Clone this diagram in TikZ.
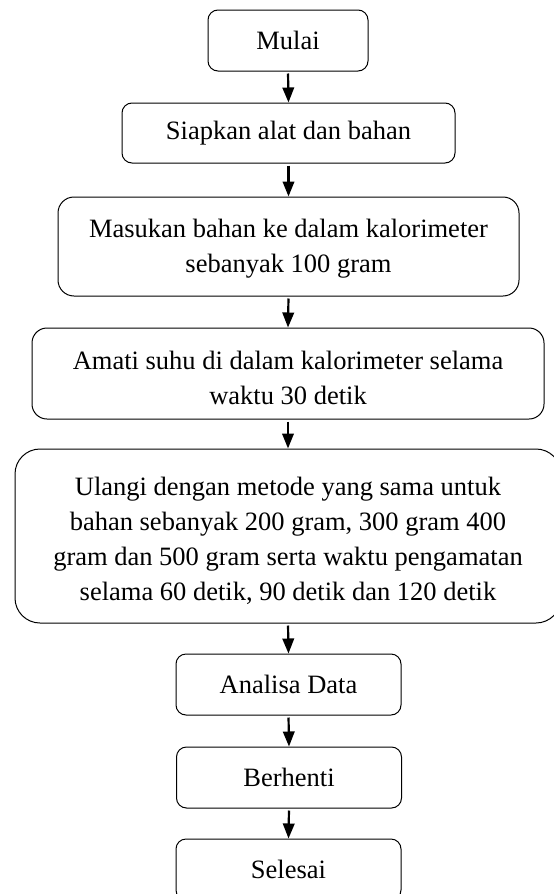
\documentclass[tikz,border=0pt]{standalone}
\usepackage{fontspec}
\setmainfont{Liberation Serif}
\usetikzlibrary{arrows.meta}
\begin{document}
\begin{tikzpicture}[x=1pt,y=-1pt,
  stepbox/.style={draw=black, line width=1pt, align=center, inner sep=0pt,
    font=\fontsize{26.5}{34.7}\selectfont},
  arr/.style={line width=2.2pt, -{Triangle[length=15pt,width=11.5pt]}, shorten <=2pt}]
\useasboundingbox (0,0) rectangle (554,894);
\clip (0,0) rectangle (554,894);
\node[stepbox, rounded corners=10pt, minimum width=160pt, minimum height=61pt] (mulai) at (288,40.5) {Mulai};
\node[stepbox, rounded corners=10pt, minimum width=333pt, minimum height=60pt] (siapkan) at (288.5,133) {Siapkan alat dan bahan};
\node[stepbox, rounded corners=16pt, minimum width=461pt, minimum height=99pt] (masukan) at (288.5,246.5) {\rule{0pt}{23pt}Masukan bahan ke dalam kalorimeter\\sebanyak 100 gram};
\node[stepbox, rounded corners=15pt, minimum width=512pt, minimum height=91pt] (amati) at (288,373.5) {\rule{0pt}{27pt}Amati suhu di dalam kalorimeter selama\\waktu 30 detik};
\node[stepbox, rounded corners=25pt, minimum width=546pt, minimum height=174pt] (ulangi) at (288,536) {\rule{0pt}{28pt}Ulangi dengan metode yang sama untuk\\bahan sebanyak 200 gram, 300 gram 400\\gram dan 500 gram serta waktu pengamatan\\selama 60 detik, 90 detik dan 120 detik};
\node[stepbox, rounded corners=10pt, minimum width=225pt, minimum height=61pt] (analisa) at (288.5,684.5) {Analisa Data};
\node[stepbox, rounded corners=10pt, minimum width=225pt, minimum height=61pt] (berhenti) at (289,777.5) {Berhenti};
\node[stepbox, rounded corners=10pt, minimum width=225pt, minimum height=61pt] (selesai) at (288.5,869.5) {Selesai};
\draw[arr] (mulai.south) -- (siapkan.north);
\draw[arr] (siapkan.south) -- (masukan.north);
\draw[arr] (masukan.south) -- (amati.north);
\draw[arr] (amati.south) -- (ulangi.north);
\draw[arr] (ulangi.south) -- (analisa.north);
\draw[arr] (analisa.south) -- (berhenti.north);
\draw[arr] (berhenti.south) -- (selesai.north);
\end{tikzpicture}
\end{document}
